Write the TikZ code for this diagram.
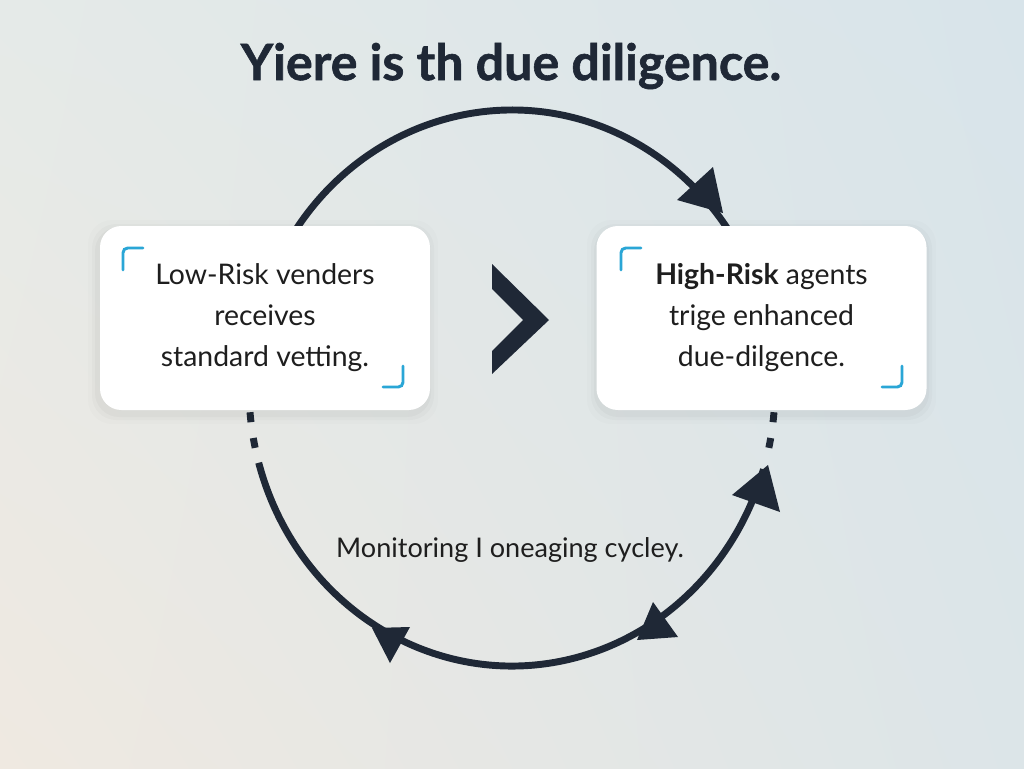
\documentclass[tikz,border=0pt]{standalone}
\usepackage{fontspec}
\usetikzlibrary{shadings}
\setmainfont{Lato}
\newfontfamily\titlefont{Lato}[BoldFeatures={FakeBold=1.2}]
\definecolor{ink}{HTML}{1F2836}
\definecolor{bracketc}{HTML}{2AA6D6}
\definecolor{txt}{HTML}{1E1E1E}
\definecolor{bgTL}{HTML}{E5EAE8}
\definecolor{bgTR}{HTML}{D8E4EA}
\definecolor{bgBL}{HTML}{EFE9E1}
\definecolor{bgBR}{HTML}{DCE5E8}
\begin{document}
\begin{tikzpicture}[x=0.75pt,y=-0.75pt,
  loop/.style={draw=ink,line width=5.2pt},
  dashloop/.style={draw=ink,line width=5.2pt,dash pattern=on 7.5pt off 12pt},
  head/.style={fill=ink},
  card/.style={rectangle,rounded corners=16pt,fill=white,minimum width=247.5pt,minimum height=138pt,inner sep=0pt,
    align=center,text=txt,font=\fontsize{21.3}{30.75}\selectfont},
  bracket/.style={draw=bracketc,line width=2.2pt,rounded corners=3.5pt,line cap=round},
  shadowc/.style={fill=black,rounded corners=18pt}]
\useasboundingbox (0,0) rectangle (1024,768);
\shade[upper left=bgTL,upper right=bgTR,lower left=bgBL,lower right=bgBR] (0,0) rectangle (1024,768);

% title
\node[font=\fontsize{37.6}{42}\selectfont\titlefont\bfseries,text=ink] (title) at (511,66) {Yiere is th due diligence.};

% cycle centre
\coordinate (c) at (512,388);

% top arc (behind cards)
\draw[loop] (c) ++(212:263 and 278) arc[start angle=212,end angle=328,x radius=263,y radius=278];
% bottom arcs
\draw[dashloop] (c) ++(175:263 and 278) arc[start angle=175,end angle=166,x radius=263,y radius=278];
\draw[loop] (c) ++(164.4:263 and 278) arc[start angle=164.4,end angle=17,x radius=263,y radius=278];
\draw[dashloop] (c) ++(5:263 and 278) arc[start angle=5,end angle=14,x radius=263,y radius=278];

% arrowheads
\fill[head] (713,167) -- (677,200) -- (723,213) -- cycle;
\fill[head] (768,465) -- (732,495) -- (780,512) -- cycle;
\fill[head] (653,602) -- (678,637) -- (637,640) -- cycle;
\fill[head] (372,628) -- (410,627) -- (390,663) -- cycle;

% shadows
\foreach \s/\o in {10/0.012,6/0.018,3/0.022}{
  \fill[shadowc,opacity=\o] (98-\s,226-\s+4) rectangle (428+\s,410+\s+4);
  \fill[shadowc,opacity=\o] (597-\s,226-\s+4) rectangle (926+\s,410+\s+4);
}

% cards
\node[card] (low) at (265,318) {Low-Risk venders\\receives\\standard vetting.};
\node[card] (high) at (761.5,318) {\textbf{High-Risk} agents\\trige enhanced\\due-dilgence.};

% corner brackets
\draw[bracket] (143,248) -| (123,270);
\draw[bracket] (383,387) -| (403,366);
\draw[bracket] (641,248) -| (621,270);
\draw[bracket] (882,387) -| (902,366);

% chevron
\fill[ink] (492,264) -- (549,320) -- (492,374) -- (492,351) -- (523,320) -- (492,289) -- cycle;

% cycle label
\node[font=\fontsize{20.3}{24}\selectfont,text=txt] (cyc) at (510,550) {Monitoring I oneaging cycley.};
\end{tikzpicture}
\end{document}
